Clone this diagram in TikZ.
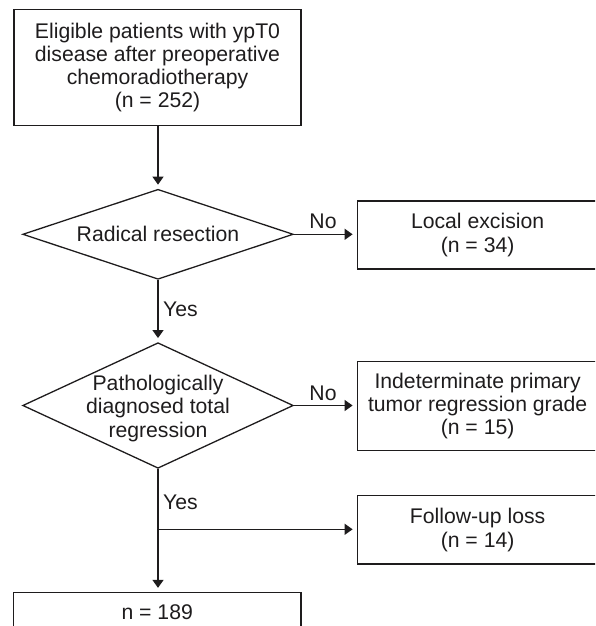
\documentclass[tikz,border=0pt]{standalone}
\usepackage{fontspec}
\setmainfont{Liberation Sans}
\usetikzlibrary{shapes.geometric,arrows.meta}
\definecolor{ink}{RGB}{30,28,29}
\begin{document}
\begin{tikzpicture}[x=1pt,y=-1pt,
  every node/.style={font=\fontsize{21.2}{23.3}\selectfont, text=ink},
  box/.style={draw=ink, line width=1.3pt, rectangle, inner sep=0pt, align=center},
  decision/.style={draw=ink, line width=1.3pt, diamond, inner sep=0pt},
  arr/.style={draw=ink, line width=1.3pt, -{Triangle[width=11pt,length=8pt]}, shorten >=4pt},
  lbl/.style={inner sep=0pt}]
\useasboundingbox (0,0) rectangle (595,626);
\clip (0,0) rectangle (595,626);
% boxes
\node[box, minimum width=287pt, minimum height=116.4pt] (top) at (157.5,67.5)
  {Eligible patients with ypT0\\disease after preoperative\\chemoradiotherapy\\(n = 252)};
\node[decision, minimum width=270.6pt, minimum height=90pt] (d1) at (158,234.3) {};
\node[lbl] (d1t) at (d1.center) {Radical resection};
\node[box, minimum width=240.7pt, minimum height=68pt] (local) at (477.6,235)
  {Local excision\\(n = 34)};
\node[decision, minimum width=270.6pt, minimum height=125.6pt] (d2) at (158,405.5) {};
\node[lbl, align=center] (d2t) at (158,408.5) {Pathologically\\diagnosed total\\regression};
\node[box, minimum width=240.7pt, minimum height=89pt] (indet) at (477.6,406.2)
  {Indeterminate primary\\tumor regression grade\\(n = 15)};
\node[box, minimum width=240.7pt, minimum height=68.3pt] (follow) at (477.6,529.9)
  {Follow-up loss\\(n = 14)};
\node[box, minimum width=287.7pt, minimum height=39pt] (final) at (157.2,612)
  {n = 189};
\coordinate (branch) at (158,529.3);
% connectors
\draw[arr] (top.south -| d1.north) -- (d1.north);
\draw[arr] (d1.east) -- (local.west |- d1.east);
\draw[arr] (d1.south) -- (d2.north);
\draw[arr] (d2.east) -- (indet.west |- d2.east);
\draw[arr] (d2.south) -- (d2.south |- final.north);
\draw[arr] (branch) -- (follow.west |- branch);
% labels
\node[lbl] (no1) at (323,221.7) {No};
\node[lbl, anchor=west] (yes1) at (163,309) {Yes};
\node[lbl] (no2) at (323,393.4) {No};
\node[lbl, anchor=west] (yes2) at (163,502.7) {Yes};
\end{tikzpicture}
\end{document}
